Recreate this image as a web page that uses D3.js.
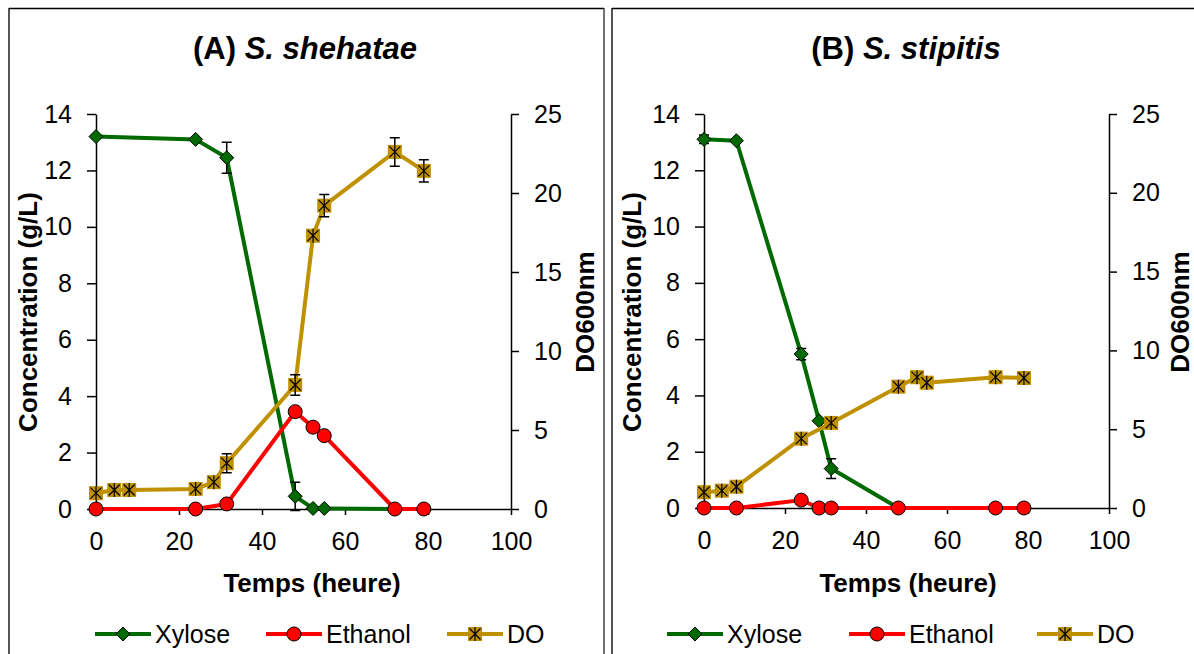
<!DOCTYPE html>
<html>
<head>
<meta charset="utf-8">
<script src="https://cdn.jsdelivr.net/npm/d3@7/dist/d3.min.js"></script>
<style>
  body { margin: 0; background: #fff; }
  svg { display: block; font-family: Arial, "Liberation Sans", sans-serif; }
</style>
</head>
<body>
<svg width="1194" height="654"></svg>
<script>
// Axes
var xTicks = [0, 20, 40, 60, 80, 100]
var concTicks = [0, 2, 4, 6, 8, 10, 12, 14]
var odTicks = [0, 5, 10, 15, 20, 25]
var seriesNames = ['Xylose', 'Ethanol', 'DO']

// (A) S. shehatae
var timeXylA = [0, 24, 31.5, 48, 52.3, 55, 72, 79]
var xyloseA = [13.2, 13.1, 12.45, 0.45, 0.02, 0.02, 0, 0]
var xyloseErrA = [0.05, 0, 0.55, 0.5, 0, 0, 0, 0]
var timeEthA = [0, 24, 31.5, 48, 52.3, 55, 72, 79]
var ethanolA = [0, 0, 0.18, 3.45, 2.9, 2.6, 0, 0]
var timeDoA = [0, 4.4, 8, 24, 28.4, 31.5, 48, 52.3, 55, 72, 79]
var doA = [1.0, 1.2, 1.2, 1.27, 1.7, 2.9, 7.85, 17.3, 19.2, 22.6, 21.4]
var doErrA = [0, 0, 0, 0, 0, 0.6, 0.65, 0, 0.7, 0.9, 0.7]

// (B) S. stipitis
var timeXylB = [0, 8, 24, 28.4, 31.4, 48, 72, 79]
var xyloseB = [13.1, 13.05, 5.47, 3.1, 1.4, 0, 0, 0]
var xyloseErrB = [0.15, 0, 0.2, 0, 0.35, 0, 0, 0]
var timeEthB = [0, 8, 24, 28.4, 31.4, 48, 72, 79]
var ethanolB = [0, 0, 0.28, 0, 0, 0, 0, 0]
var timeDoB = [0, 4.4, 8, 24, 31.4, 48, 52.6, 55, 72, 79]
var doB = [1.0, 1.1, 1.35, 4.4, 5.4, 7.7, 8.3, 7.95, 8.3, 8.25]
var doErrB = [0, 0, 0, 0, 0, 0, 0, 0, 0, 0]

var green = '#006a00', red = '#ff0000', gold = '#bf9000'

var svg = d3.select('svg')

// panel frames
function frame(x0, x1) {
  svg.append('line').attr('x1', x0).attr('x2', x0).attr('y1', 8).attr('y2', 660)
    .attr('stroke', '#555').attr('stroke-width', 2)
  svg.append('line').attr('x1', x0).attr('x2', x1).attr('y1', 8.5).attr('y2', 8.5)
    .attr('stroke', '#000').attr('stroke-width', 1.5)
  svg.append('line').attr('x1', x1).attr('x2', x1).attr('y1', 8).attr('y2', 660)
    .attr('stroke', '#444').attr('stroke-width', 1.5)
}
frame(9, 604)
frame(612, 1240)

function zip(xs, ys, es) {
  return xs.map((x, i) => ({ x: x, y: ys[i], e: es ? es[i] : 0 }))
}

function diamond(g, c) {
  g.append('path').attr('d', 'M0,-7L7,0L0,7L-7,0Z')
    .attr('fill', c).attr('stroke', '#000').attr('stroke-width', 1)
}
function circle(g, c) {
  g.append('circle').attr('r', 7).attr('fill', c).attr('stroke', '#000').attr('stroke-width', 1)
}
function starSquare(g, c) {
  g.append('rect').attr('x', -7).attr('y', -7).attr('width', 14).attr('height', 14).attr('fill', c)
  g.append('path').attr('d', 'M-5.5,-5.5L5.5,5.5M5.5,-5.5L-5.5,5.5M0,-7L0,7')
    .attr('stroke', '#000').attr('stroke-width', 1.2)
}
var markers = [diamond, circle, starSquare]
var colors = [green, red, gold]

function drawPanel(p) {
  var x = d3.scaleLinear().domain([0, 100]).range([p.left, p.right])
  var yL = d3.scaleLinear().domain([0, 14]).range([p.bottom, p.top])
  var yR = d3.scaleLinear().domain([0, 25]).range([p.bottom, p.top])

  var g = svg.append('g')

  // axes
  var ax = g.append('g').attr('transform', 'translate(0,' + p.bottom + ')')
    .call(d3.axisBottom(x).tickValues(xTicks).tickSize(6).tickSizeOuter(0).tickPadding(17))
  var al = g.append('g').attr('transform', 'translate(' + p.left + ',0)')
    .call(d3.axisLeft(yL).tickValues(concTicks).tickSize(9).tickSizeOuter(0).tickPadding(15))
  var ar = g.append('g').attr('transform', 'translate(' + p.right + ',0)')
    .call(d3.axisRight(yR).tickValues(odTicks).tickSize(8).tickSizeOuter(0).tickPadding(15))
  ;[ax, al, ar].forEach(a => {
    a.attr('font-size', 25).attr('font-family', 'Arial, "Liberation Sans", sans-serif')
    a.selectAll('text').attr('fill', '#000')
    a.selectAll('line, path').attr('stroke', '#000').attr('stroke-width', 1.5)
  })

  var series = [
    { data: zip(p.tX, p.xyl, p.xylErr), y: yL },
    { data: zip(p.tE, p.eth), y: yL },
    { data: zip(p.tD, p.od, p.odErr), y: yR }
  ]

  series.forEach((s, k) => {
    var sg = g.append('g')
    sg.append('path').datum(s.data)
      .attr('fill', 'none').attr('stroke', colors[k]).attr('stroke-width', 4)
      .attr('stroke-linejoin', 'round')
      .attr('d', d3.line().x(d => x(d.x)).y(d => s.y(d.y)))
    // error bars
    s.data.filter(d => d.e > 0).forEach(d => {
      var cx = x(d.x), y1 = s.y(d.y + d.e), y2 = s.y(d.y - d.e)
      sg.append('path')
        .attr('d', 'M' + cx + ',' + y1 + 'V' + y2 + 'M' + (cx - 5) + ',' + y1 + 'h10M' + (cx - 5) + ',' + y2 + 'h10')
        .attr('stroke', '#000').attr('stroke-width', 1.5).attr('fill', 'none')
    })
    s.data.forEach(d => {
      var mg = sg.append('g').attr('transform', 'translate(' + x(d.x) + ',' + s.y(d.y) + ')')
      markers[k](mg, colors[k])
    })
  })

  // title
  var t = g.append('text').attr('x', p.titleX).attr('y', 59).attr('text-anchor', 'middle')
    .attr('font-size', 31).attr('font-weight', 'bold')
  t.append('tspan').text(p.tag + ' ')
  t.append('tspan').attr('font-style', 'italic').text(p.species)

  // axis titles
  g.append('text').attr('x', p.xTitleX).attr('y', 592).attr('text-anchor', 'middle')
    .attr('font-size', 26).attr('font-weight', 'bold').text('Temps (heure)')
  g.append('text').attr('transform', 'translate(' + p.concX + ',312) rotate(-90)')
    .attr('text-anchor', 'middle').attr('font-size', 26).attr('font-weight', 'bold')
    .text('Concentration (g/L)')
  g.append('text').attr('transform', 'translate(' + p.odX + ',312) rotate(-90)')
    .attr('text-anchor', 'middle').attr('font-size', 26).attr('font-weight', 'bold')
    .text('DO600nm')

  // legend
  seriesNames.forEach((name, k) => {
    var lx = p.legX + p.legOff[k]
    var lg = g.append('g').attr('transform', 'translate(' + lx + ',634)')
    lg.append('line').attr('x1', 0).attr('x2', 56).attr('stroke', colors[k]).attr('stroke-width', 4)
    var mg = lg.append('g').attr('transform', 'translate(28,0)')
    markers[k](mg, colors[k])
    lg.append('text').attr('x', 60).attr('y', 9).attr('font-size', 25).text(name)
  })
}

drawPanel({
  left: 96, right: 511, top: 114, bottom: 509,
  tX: timeXylA, xyl: xyloseA, xylErr: xyloseErrA,
  tE: timeEthA, eth: ethanolA,
  tD: timeDoA, od: doA, odErr: doErrA,
  tag: '(A)', species: 'S. shehatae', titleX: 305, xTitleX: 312,
  concX: 37, odX: 594, legX: 95, legOff: [0, 171, 352]
})
drawPanel({
  left: 704, right: 1109, top: 114, bottom: 508,
  tX: timeXylB, xyl: xyloseB, xylErr: xyloseErrB,
  tE: timeEthB, eth: ethanolB,
  tD: timeDoB, od: doB, odErr: doErrB,
  tag: '(B)', species: 'S. stipitis', titleX: 906, xTitleX: 908,
  concX: 641, odX: 1189, legX: 667, legOff: [0, 182, 370]
})
</script>
</body>
</html>
